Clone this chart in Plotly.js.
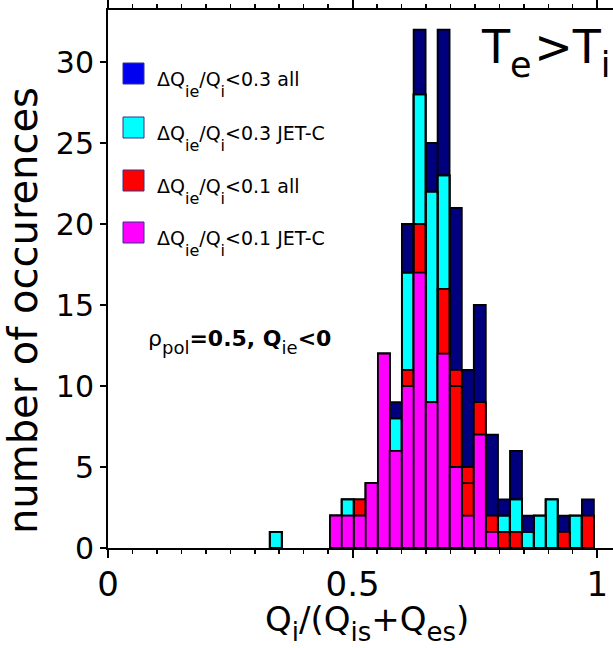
<!DOCTYPE html>
<html>
<head>
<meta charset="utf-8">
<script src="https://cdn.plot.ly/plotly-3.0.1.min.js"></script>
<style>
  html, body { margin: 0; padding: 0; background: #fff; overflow: hidden; }
  #chart { width: 613px; height: 648px; }
</style>
</head>
<body>
<div id="chart"></div>
<script>
// Histogram bin centres of Q_i/(Q_is+Q_es)
const binCenters = [0.343, 0.466, 0.490, 0.515, 0.539, 0.564, 0.588, 0.613, 0.637, 0.662, 0.686,
                    0.711, 0.736, 0.760, 0.785, 0.809, 0.834, 0.858, 0.883, 0.907, 0.932, 0.956, 0.981];
const binWidth = 0.0245;

// Number of occurences per bin for each selection
const all03 = [1, 2, 3, 3, 4, 12, 9, 20, 32, 25, 32, 21, 11, 15, 7, 3, 6, 2, 2, 3, 2, 2, 3];
const jet03 = [1, 2, 3, 2, 4, 12, 8, 17, 28, 22, 23, 10, 4, 7, 1, 2, 3, 1, 2, 3, 0, 2, 0];
const all01 = [0, 2, 2, 3, 4, 12, 6, 11, 20, 9, 16, 11, 5, 9, 2, 1, 1, 0, 0, 0, 1, 0, 2];
const jet01 = [0, 2, 2, 2, 4, 12, 6, 10, 17, 9, 12, 5, 2, 7, 1, 0, 0, 0, 0, 0, 0, 0, 0];

// lowered subscript helper (size in px, drop in px)
const sub = (t, size, drop) =>
  '<span style="font-size:' + size + 'px;baseline-shift:-' + drop + 'px">' + t + '</span>';

const seriesNames = [
  'ΔQ' + sub('ie', 16, 11) + '/Q' + sub('i', 16, 11) + '&lt;0.3 all',
  'ΔQ' + sub('ie', 16, 11) + '/Q' + sub('i', 16, 11) + '&lt;0.3 JET-C',
  'ΔQ' + sub('ie', 16, 11) + '/Q' + sub('i', 16, 11) + '&lt;0.1 all',
  'ΔQ' + sub('ie', 16, 11) + '/Q' + sub('i', 16, 11) + '&lt;0.1 JET-C'
];
const barColors = ['#00007f', '#00ffff', '#ff0000', '#ff00ff'];
const keyColors = ['#0000f0', '#00ffff', '#ff0000', '#ff00ff'];

const FONT = 'DejaVu Sans, Liberation Sans, Arial, sans-serif';
const outline = { color: '#000', width: 1.8 };

function barTrace(y, color) {
  return { type: 'bar', x: binCenters, y: y, width: binWidth,
           marker: { color: color, line: outline }, hoverinfo: 'skip', showlegend: false };
}

const traces = [
  barTrace(all03, barColors[0]),
  barTrace(jet03, barColors[1]),
  barTrace(all01, barColors[2]),
  // JET-C (0.3) edges stay visible through the red fill
  barTrace(jet03, 'rgba(0,0,0,0)'),
  barTrace(jet01, barColors[3])
];

// plot frame in pixels
const L = 108, R = 613, T = 10, B = 548;
const px = v => (v - L) / (R - L);
const py = v => (B - v) / (B - T);

const shapes = [];
const annotations = [];
const keyTop = [63, 117, 170, 222];
keyTop.forEach((top, i) => {
  shapes.push({ type: 'rect', xref: 'paper', yref: 'paper',
    x0: px(123), x1: px(144), y0: py(top + 21), y1: py(top),
    fillcolor: keyColors[i], line: { color: '#33338a', width: 1 } });
  annotations.push({ xref: 'paper', yref: 'paper', x: px(155), y: py(top + 21),
    xanchor: 'left', yanchor: 'middle', showarrow: false, text: seriesNames[i],
    font: { family: FONT, size: 19, color: '#000' } });
});

annotations.push({ xref: 'paper', yref: 'paper', x: px(146), y: py(342),
  xanchor: 'left', yanchor: 'middle', showarrow: false,
  text: 'ρ' + sub('pol', 18, 8) + '<b>=0.5, Q</b>' + sub('ie', 18, 8) + '<b>&lt;0</b>',
  font: { family: FONT, size: 22, color: '#000' } });

annotations.push({ xref: 'paper', yref: 'paper', x: px(479), y: py(53),
  xanchor: 'left', yanchor: 'middle', showarrow: false,
  text: 'T' + sub('e', 35, 14) + '<span style="font-size:8px"> </span>&gt;T' + sub('i', 35, 14),
  font: { family: FONT, size: 46, color: '#000' } });

// axis titles
annotations.push({ xref: 'paper', yref: 'paper', x: px(367), y: py(623),
  xanchor: 'center', yanchor: 'middle', showarrow: false,
  text: 'Q' + sub('i', 26, 10) + '/(Q' + sub('is', 26, 10) + '+Q' + sub('es', 26, 10) + ')',
  font: { family: FONT, size: 34, color: '#000' } });
annotations.push({ xref: 'paper', yref: 'paper', x: px(23), y: py(311),
  xanchor: 'center', yanchor: 'middle', showarrow: false, textangle: -90,
  text: 'number of occurences',
  font: { family: FONT, size: 40, color: '#000' } });

const layout = {
  width: 613, height: 648,
  margin: { l: L, r: 0, t: T, b: 648 - B },
  barmode: 'overlay',
  showlegend: false,
  paper_bgcolor: '#fff', plot_bgcolor: '#fff',
  font: { family: FONT, color: '#000' },
  xaxis: {
    range: [0, (R - L) / 489.2], tick0: 0, dtick: 0.5,
    ticks: 'outside', ticklen: 8, tickwidth: 2, tickcolor: '#000',
    minor: { dtick: 0.05, ticks: 'outside', ticklen: 4, tickwidth: 1.5, tickcolor: '#000' },
    showline: true, linewidth: 2, linecolor: '#000', mirror: 'ticks',
    showgrid: false, zeroline: false,
    ticklabelstandoff: -3,
    tickfont: { family: FONT, size: 34 }
  },
  yaxis: {
    range: [0, (B - T) / 16.2], tick0: 0, dtick: 5,
    ticks: 'outside', ticklen: 6, tickwidth: 2, tickcolor: '#000',
    showline: true, linewidth: 2, linecolor: '#000',
    showgrid: false, zeroline: false,
    tickfont: { family: FONT, size: 30 }
  },
  shapes: shapes,
  annotations: annotations
};

Plotly.newPlot('chart', traces, layout, { staticPlot: true, displayModeBar: false });
</script>
</body>
</html>
